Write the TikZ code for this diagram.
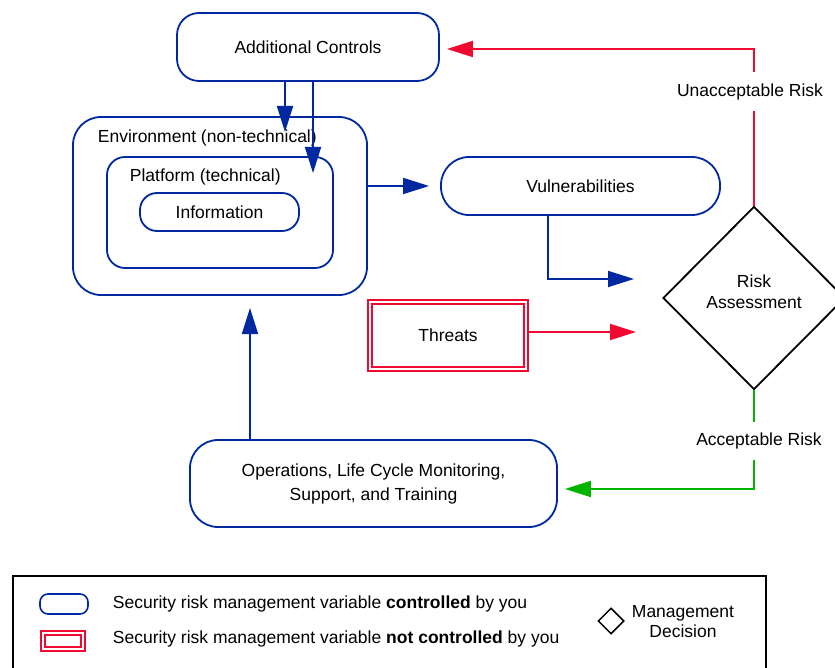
\documentclass[tikz,border=0pt]{standalone}
\usepackage{fontspec}
\setmainfont{Liberation Sans}
\usetikzlibrary{arrows.meta,shapes.geometric,positioning}

\definecolor{ctrlblue}{RGB}{0,40,160}
\definecolor{riskred}{RGB}{240,10,50}
\definecolor{okgreen}{RGB}{0,180,0}

\begin{document}
\begin{tikzpicture}[x=1pt,y=-1pt,line width=1.8pt,
    font=\fontsize{17.5}{21}\selectfont,
    var/.style={draw=ctrlblue,rectangle,rounded corners=#1,align=center,inner sep=0pt},
    var/.default=20pt,
    threat/.style={draw=riskred,double=white,double distance=2pt,line width=2pt,
                   rectangle,inner sep=0pt},
    decision/.style={draw=black,diamond,inner sep=0pt,align=center},
    tag/.style={inner sep=0pt},
    flow/.style={draw=ctrlblue,-{Triangle[length=26pt,width=16pt]}},
    redflow/.style={draw=riskred,-{Triangle[length=26pt,width=16pt]}},
    greenflow/.style={draw=okgreen,-{Triangle[length=26pt,width=16pt]}}]
  \useasboundingbox (0,0) rectangle (835,668);

  % controlled variables
  \node[var=22pt,minimum width=262pt,minimum height=68pt] (ctrl) at (308,47) {Additional Controls};
  \node[var=28pt,minimum width=294pt,minimum height=178pt] (env) at (220,206) {};
  \node[var=18pt,minimum width=226pt,minimum height=111pt] (plat) at (220,212.5) {};
  \node[var=17pt,minimum width=159pt,minimum height=38pt] (info) at (219.5,212) {Information};
  \node[tag,anchor=west] (env-text) at (97,138) {Environment (non-technical)};
  \node[tag,anchor=west] (plat-text) at (129,177) {Platform (technical)};
  \node[var=28pt,minimum width=279pt,minimum height=58pt] (vuln) at (580.5,186) {Vulnerabilities};
  \node[var=28pt,minimum width=367pt,minimum height=87pt] (ops) at (373.5,483.5)
    {Operations, Life Cycle Monitoring,\\[3pt]Support, and Training};

  % not controlled
  \node[threat,minimum width=156pt,minimum height=67pt] (threats) at (448,335.5) {Threats};

  % decision
  \node[decision,minimum width=182pt,minimum height=183pt,
        label={[tag,align=center,yshift=6pt]center:Risk\\Assessment}] (risk) at (754,298) {};
  \node[tag,inner ysep=10pt] (unacc) at (750,91.5) {Unacceptable Risk};
  \node[tag,inner ysep=10pt] (acc) at (759,441) {Acceptable Risk};

  \coordinate (env-hit) at (285,132);
  \coordinate (plat-hit) at (313,173);
  \coordinate (vuln-in) at (634,279);
  \coordinate (threat-in) at (636,332);
  \coordinate (env-in) at (250,308);

  \draw[flow] (ctrl.south -| env-hit) -- (env-hit);
  \draw[flow] (ctrl.south -| plat-hit) -- (plat-hit);
  \draw[flow,shorten >=11pt] (env.east |- vuln.west) -- (vuln.west);
  \draw[flow] ([xshift=-32.5pt]vuln.south) |- (vuln-in);
  \draw[redflow] (threats.east |- threat-in) -- (threat-in);
  \draw[flow] (ops.north -| env-in) -- (env-in);

  \draw[riskred] (risk.north) -- (risk.north |- unacc.south);
  \draw[redflow,shorten >=7pt] (risk.north |- unacc.north) |- ([yshift=-2pt]ctrl.east);
  \draw[okgreen] (risk.south) -- (risk.south |- acc.north);
  \draw[greenflow,shorten >=7pt] (risk.south |- acc.south) |- ([yshift=-5.5pt]ops.east);

  % key
  \draw[line width=1.5pt] (13,576) rectangle (766,700);
  \node[var=8pt,line width=1.6pt,minimum width=48pt,minimum height=20pt] (key-ctrl) at (64,604) {};
  \node[threat,line width=1.6pt,minimum width=40pt,minimum height=16pt] (key-threat) at (63,641) {};
  \node[tag,anchor=west] (key-ctrl-text) at (112,604)
    {Security risk management variable \textbf{controlled} by you};
  \node[tag,anchor=west] (key-threat-text) at (112,639)
    {Security risk management variable \textbf{not controlled} by you};
  \node[decision,line width=1.5pt,minimum width=26pt,minimum height=26pt] (key-risk) at (611,621) {};
  \node[tag,align=center,font=\fontsize{17.5}{20}\selectfont] (key-risk-text) at (683,622) {Management\\Decision};
\end{tikzpicture}
\end{document}
